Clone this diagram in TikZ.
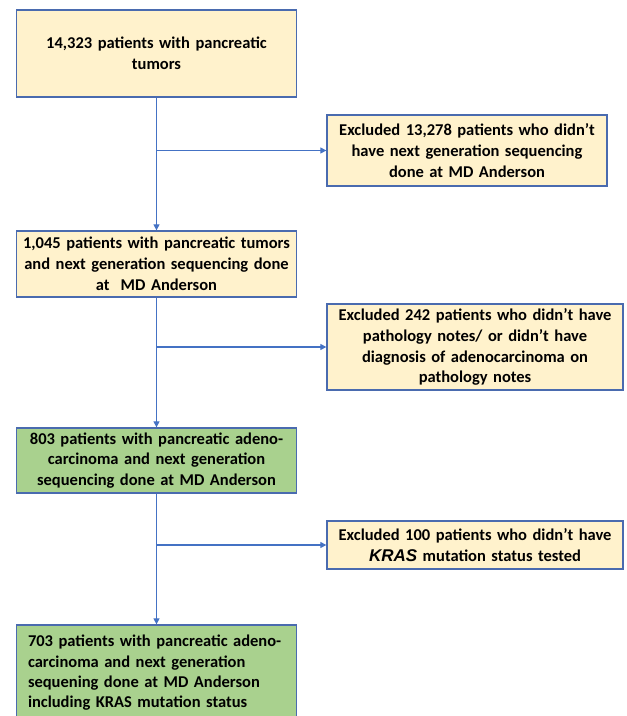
\documentclass[tikz,border=0pt]{standalone}
\usepackage{fontspec}
\setmainfont{Carlito}
\newfontfamily\arialf{Liberation Sans}
\usetikzlibrary{arrows.meta}
\definecolor{boxborder}{HTML}{4A6BAF}
\definecolor{linecol}{HTML}{4472C4}
\definecolor{yellowfill}{HTML}{FFF2CC}
\definecolor{greenfill}{HTML}{A9D18E}
\tikzset{
  x=1pt,y=1pt,
  flowbox/.style={draw=boxborder, line width=1.3pt, minimum width=280pt, inner sep=2pt,
    font=\fontsize{16.5}{20.8}\selectfont\bfseries, align=center, text width=276pt},
  yellowbox/.style={flowbox, fill=yellowfill},
  greenbox/.style={flowbox, fill=greenfill},
  conn/.style={draw=linecol, line width=1.2pt, -{Triangle[width=6pt,length=6pt]}}
}
\begin{document}
\begin{tikzpicture}
\useasboundingbox (0,0) rectangle (627,-716);
\begin{scope}
\clip (0,0) rectangle (627,-716);
\node[yellowbox, minimum height=87pt] (b1) at (156.5,-53.5) {14,323 patients with pancreatic\\tumors};
\node[yellowbox, minimum height=71pt] (e1) at (467,-150.5) {Excluded 13,278 patients who didn’t\\have next generation sequencing\\done at MD Anderson};
\node[yellowbox, minimum height=66pt] (b2) at (156.5,-264) {1,045 patients with pancreatic tumors\\and next generation sequencing done\\at~ MD Anderson};
\node[yellowbox, minimum width=296pt, text width=292pt, minimum height=86pt] (e2) at (475,-347) {Excluded 242 patients who didn’t have\\pathology notes/ or didn’t have\\diagnosis of adenocarcinoma on\\pathology notes};
\node[greenbox, minimum height=65pt] (b3) at (156.5,-460.5) {803 patients with pancreatic adeno-\\carcinoma and next generation\\sequencing done at MD Anderson};
\node[yellowbox, minimum width=296pt, text width=292pt, minimum height=48pt] (e3) at (475,-545) {Excluded 100 patients who didn’t have\\{\arialf\bfseries\itshape\fontsize{17}{20}\selectfont KRAS} mutation status tested};
\node[greenbox, minimum height=96pt, align=left, text width=257pt, font=\fontsize{16.5}{20.3}\selectfont\bfseries] (b4) at (156.5,-673) {703 patients with pancreatic adeno-\\carcinoma and next generation\\sequening done at MD Anderson\\including KRAS mutation status};
\end{scope}
\draw[conn] (b1.south) -- (b2.north);
\draw[conn] (b2.south) -- (b3.north);
\draw[conn] (b3.south) -- (b4.north);
\draw[conn] (e1.west -| b1.south) -- (e1.west);
\draw[conn] (e2.west -| b2.south) -- (e2.west);
\draw[conn] (e3.west -| b3.south) -- (e3.west);
\end{tikzpicture}
\end{document}
